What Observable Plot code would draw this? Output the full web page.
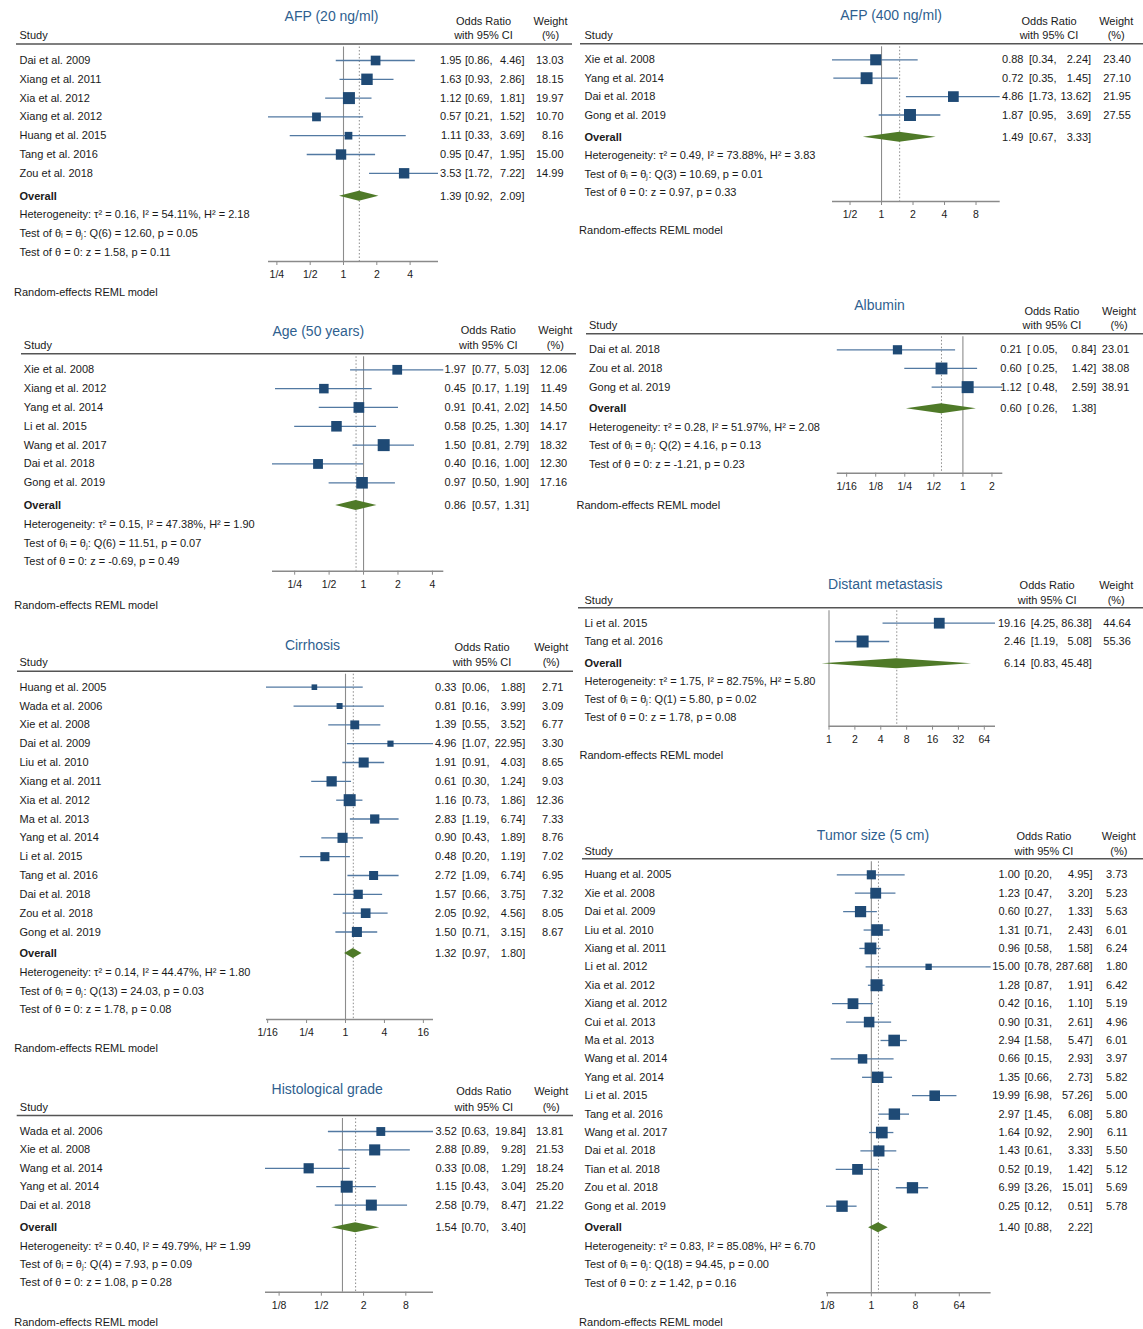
<!DOCTYPE html>
<html><head><meta charset="utf-8">
<script src="https://cdn.jsdelivr.net/npm/d3@7"></script>
<script src="https://cdn.jsdelivr.net/npm/@observablehq/plot@0.6"></script>
<style>
body{margin:0;background:#fff}
#page{position:relative;width:1143px;height:1329px;overflow:hidden;font-family:"Liberation Sans",Arial,sans-serif}
.panel{position:absolute}
</style>
</head><body><div id="page"></div>
<script>
// ---------------- DATA ----------------
// AFP (20 ng/ml)
const afp20Studies = ["Dai et al. 2009","Xiang et al. 2011","Xia et al. 2012","Xiang et al. 2012","Huang et al. 2015","Tang et al. 2016","Zou et al. 2018"];
const afp20OR = [1.95,1.63,1.12,0.57,1.11,0.95,3.53];
const afp20Lo = [0.86,0.93,0.69,0.21,0.33,0.47,1.72];
const afp20Hi = [4.46,2.86,1.81,1.52,3.69,1.95,7.22];
const afp20W  = [13.03,18.15,19.97,10.70,8.16,15.00,14.99];
const afp20Overall = [1.39,0.92,2.09];
const afp20Het = [0.16,54.11,2.18,6,12.60,0.05,1.58,0.11];
const afp20Ticks = [0.25,0.5,1,2,4];
const afp20TickLabels = ["1/4","1/2","1","2","4"];

// AFP (400 ng/ml)
const afp400Studies = ["Xie et al. 2008","Yang et al. 2014","Dai et al. 2018","Gong et al. 2019"];
const afp400OR = [0.88,0.72,4.86,1.87];
const afp400Lo = [0.34,0.35,1.73,0.95];
const afp400Hi = [2.24,1.45,13.62,3.69];
const afp400W  = [23.40,27.10,21.95,27.55];
const afp400Overall = [1.49,0.67,3.33];
const afp400Het = [0.49,73.88,3.83,3,10.69,0.01,0.97,0.33];
const afp400Ticks = [0.5,1,2,4,8];
const afp400TickLabels = ["1/2","1","2","4","8"];

// Age (50 years)
const ageStudies = ["Xie et al. 2008","Xiang et al. 2012","Yang et al. 2014","Li et al. 2015","Wang et al. 2017","Dai et al. 2018","Gong et al. 2019"];
const ageOR = [1.97,0.45,0.91,0.58,1.50,0.40,0.97];
const ageLo = [0.77,0.17,0.41,0.25,0.81,0.16,0.50];
const ageHi = [5.03,1.19,2.02,1.30,2.79,1.00,1.90];
const ageW  = [12.06,11.49,14.50,14.17,18.32,12.30,17.16];
const ageOverall = [0.86,0.57,1.31];
const ageHet = [0.15,47.38,1.90,6,11.51,0.07,-0.69,0.49];
const ageTicks = [0.25,0.5,1,2,4];
const ageTickLabels = ["1/4","1/2","1","2","4"];

// Albumin
const albStudies = ["Dai et al. 2018","Zou et al. 2018","Gong et al. 2019"];
const albOR = [0.21,0.60,1.12];
const albLo = [0.05,0.25,0.48];
const albHi = [0.84,1.42,2.59];
const albW  = [23.01,38.08,38.91];
const albOverall = [0.60,0.26,1.38];
const albHet = [0.28,51.97,2.08,2,4.16,0.13,-1.21,0.23];
const albTicks = [1/16,1/8,1/4,1/2,1,2];
const albTickLabels = ["1/16","1/8","1/4","1/2","1","2"];

// Cirrhosis
const cirStudies = ["Huang et al. 2005","Wada et al. 2006","Xie et al. 2008","Dai et al. 2009","Liu et al. 2010","Xiang et al. 2011","Xia et al. 2012","Ma et al. 2013","Yang et al. 2014","Li et al. 2015","Tang et al. 2016","Dai et al. 2018","Zou et al. 2018","Gong et al. 2019"];
const cirOR = [0.33,0.81,1.39,4.96,1.91,0.61,1.16,2.83,0.90,0.48,2.72,1.57,2.05,1.50];
const cirLo = [0.06,0.16,0.55,1.07,0.91,0.30,0.73,1.19,0.43,0.20,1.09,0.66,0.92,0.71];
const cirHi = [1.88,3.99,3.52,22.95,4.03,1.24,1.86,6.74,1.89,1.19,6.74,3.75,4.56,3.15];
const cirW  = [2.71,3.09,6.77,3.30,8.65,9.03,12.36,7.33,8.76,7.02,6.95,7.32,8.05,8.67];
const cirOverall = [1.32,0.97,1.80];
const cirHet = [0.14,44.47,1.80,13,24.03,0.03,1.78,0.08];
const cirTicks = [1/16,1/4,1,4,16];
const cirTickLabels = ["1/16","1/4","1","4","16"];

// Distant metastasis
const dmStudies = ["Li et al. 2015","Tang et al. 2016"];
const dmOR = [19.16,2.46];
const dmLo = [4.25,1.19];
const dmHi = [86.38,5.08];
const dmW  = [44.64,55.36];
const dmOverall = [6.14,0.83,45.48];
const dmHet = [1.75,82.75,5.80,1,5.80,0.02,1.78,0.08];
const dmTicks = [1,2,4,8,16,32,64];
const dmTickLabels = ["1","2","4","8","16","32","64"];

// Histological grade
const hgStudies = ["Wada et al. 2006","Xie et al. 2008","Wang et al. 2014","Yang et al. 2014","Dai et al. 2018"];
const hgOR = [3.52,2.88,0.33,1.15,2.58];
const hgLo = [0.63,0.89,0.08,0.43,0.79];
const hgHi = [19.84,9.28,1.29,3.04,8.47];
const hgW  = [13.81,21.53,18.24,25.20,21.22];
const hgOverall = [1.54,0.70,3.40];
const hgHet = [0.40,49.79,1.99,4,7.93,0.09,1.08,0.28];
const hgTicks = [1/8,1/2,2,8];
const hgTickLabels = ["1/8","1/2","2","8"];

// Tumor size (5 cm)
const tsStudies = ["Huang et al. 2005","Xie et al. 2008","Dai et al. 2009","Liu et al. 2010","Xiang et al. 2011","Li et al. 2012","Xia et al. 2012","Xiang et al. 2012","Cui et al. 2013","Ma et al. 2013","Wang et al. 2014","Yang et al. 2014","Li et al. 2015","Tang et al. 2016","Wang et al. 2017","Dai et al. 2018","Tian et al. 2018","Zou et al. 2018","Gong et al. 2019"];
const tsOR = [1.00,1.23,0.60,1.31,0.96,15.00,1.28,0.42,0.90,2.94,0.66,1.35,19.99,2.97,1.64,1.43,0.52,6.99,0.25];
const tsLo = [0.20,0.47,0.27,0.71,0.58,0.78,0.87,0.16,0.31,1.58,0.15,0.66,6.98,1.45,0.92,0.61,0.19,3.26,0.12];
const tsHi = [4.95,3.20,1.33,2.43,1.58,287.68,1.91,1.10,2.61,5.47,2.93,2.73,57.26,6.08,2.90,3.33,1.42,15.01,0.51];
const tsW  = [3.73,5.23,5.63,6.01,6.24,1.80,6.42,5.19,4.96,6.01,3.97,5.82,5.00,5.80,6.11,5.50,5.12,5.69,5.78];
const tsOverall = [1.40,0.88,2.22];
const tsHet = [0.83,85.08,6.70,18,94.45,0.00,1.42,0.16];
const tsTicks = [1/8,1,8,64];
const tsTickLabels = ["1/8","1","8","64"];

// ---------------- STYLE ----------------
const FONT = "Liberation Sans, Arial, Helvetica, sans-serif";
const TXT = "#1a1a1a", TITLE = "#2f5f8f", SQ = "#1f4a75", CI = "#5279a2", DIA = "#4f7a28", REF = "#8c8c8c";

function forest(cfg, d) {
  const [bx, by, bw, bh] = cfg.box;
  const rowOf = py => (py - cfg.firstRow) / cfg.step;
  const rows = d.studies.map((s, i) => ({study: s, or: d.or[i], lo: d.lo[i], hi: d.hi[i], w: d.w[i], y: i}));
  const frameTop = cfg.hline + 3;
  const xDom = [Math.min(1, d3.min(d.lo)), Math.max(1, d3.max(d.hi))];
  const mL = cfg.ax0 - bx, mR = bx + bw - cfg.ax1, mT = frameTop - by, mB = by + bh - cfg.axisY;
  const yDom = [rowOf(frameTop), rowOf(cfg.axisY)];
  const oy = rowOf(cfg.overallY);
  const hh = 5 / cfg.step;
  const [oOR, oLo, oHi] = d.overall;
  const diamond = [{x: oLo, y1: oy, y2: oy}, {x: oOR, y1: oy - hh, y2: oy + hh}, {x: oHi, y1: oy, y2: oy}];
  const f2 = v => v.toFixed(2);
  const pad = d.pad ? " " : "";
  const orRows = rows.map(r => ({est: f2(r.or), lo: "[" + pad + f2(r.lo) + ",", hi: f2(r.hi) + "]", w: f2(r.w), y: r.y}));
  orRows.push({est: f2(oOR), lo: "[" + pad + f2(oLo) + ",", hi: f2(oHi) + "]", w: "", y: oy});
  const h = d.het;
  const hetLines = [
    `Heterogeneity: \u03c4\u00b2 = ${f2(h[0])}, I\u00b2 = ${f2(h[1])}%, H\u00b2 = ${f2(h[2])}`,
    `Test of \u03b8\u1d62 = \u03b8\u2c7c: Q(${h[3]}) = ${f2(h[4])}, p = ${f2(h[5])}`,
    `Test of \u03b8 = 0: z = ${f2(h[6])}, p = ${f2(h[7])}`
  ].map((t, i) => ({t, y: rowOf(cfg.het[i])}));
  const at = px => ({frameAnchor: "left", dx: px - cfg.ax0});
  const T = (data, opts) => Plot.text(data, {fontFamily: FONT, fontSize: 11, fill: TXT, y: "y", ...opts});
  const tickMap = new Map(d.ticks.map((t, i) => [t, d.tickLabels[i]]));

  const svg = Plot.plot({
    width: bw, height: bh,
    marginLeft: mL, marginRight: mR, marginTop: mT, marginBottom: mB,
    style: {fontFamily: FONT, fontSize: "11px", background: "transparent", overflow: "visible"},
    x: {type: "log", base: 2, domain: xDom},
    y: {type: "linear", domain: yDom, range: [mT, bh - mB], axis: null},
    r: {type: "sqrt", domain: [0, d3.max(d.w)], range: [0, 12 / Math.sqrt(Math.PI)]},
    marks: [
      // header
      T([{t: cfg.title, y: rowOf(cfg.titleY)}], {text: "t", ...at(cfg.titleX), textAnchor: "middle", fontSize: 14, fill: TITLE}),
      T([{t: "Odds Ratio", y: rowOf(cfg.hdrY1)}, {t: "with 95% CI", y: rowOf(cfg.hdrY2)}], {text: "t", ...at(cfg.orHdrX), textAnchor: "middle"}),
      T([{t: "Weight", y: rowOf(cfg.hdrY1)}, {t: "(%)", y: rowOf(cfg.hdrY2)}], {text: "t", ...at(cfg.wHdrX), textAnchor: "middle"}),
      T([{t: "Study", y: rowOf(cfg.hdrY2)}], {text: "t", ...at(cfg.studyX), textAnchor: "start"}),
      Plot.ruleY([rowOf(cfg.hline)], {stroke: "#555", strokeWidth: 1.6, insetLeft: cfg.hx1 - cfg.ax0, insetRight: cfg.ax1 - cfg.hx2}),
      // reference lines
      Plot.ruleX([1], {stroke: REF, strokeWidth: 1.1}),
      Plot.ruleX([oOR], {stroke: REF, strokeWidth: 1, strokeDasharray: "1.5,2"}),
      // CIs and squares
      Plot.ruleY(rows, {y: "y", x1: "lo", x2: "hi", stroke: CI, strokeWidth: 1.3}),
      Plot.dot(rows, {x: "or", y: "y", r: "w", symbol: "square", fill: SQ, stroke: "none"}),
      // overall diamond
      Plot.areaY(diamond, {x: "x", y1: "y1", y2: "y2", fill: DIA, curve: "linear"}),
      // axis
      Plot.ruleY([yDom[1]], {stroke: "#8a8a8a", strokeWidth: 1.5}),
      Plot.axisX({ticks: d.ticks, tickFormat: v => tickMap.get(v), tickSize: 4, tickPadding: 5, fontSize: 10.5, stroke: "#8a8a8a", fill: TXT, label: null}),
      // study labels
      T(rows, {text: "study", ...at(cfg.studyX), textAnchor: "start"}),
      T([{t: "Overall", y: oy}], {text: "t", ...at(cfg.studyX), textAnchor: "start", fontWeight: "bold"}),
      // OR columns
      T(orRows, {text: "est", ...at(cfg.estR), textAnchor: "end"}),
      T(orRows, {text: "lo", ...at(cfg.lbL + 2.5), textAnchor: "start"}),
      T(orRows, {text: "hi", ...at(cfg.upR), textAnchor: "end"}),
      T(orRows, {text: "w", ...at(cfg.wR), textAnchor: "end"}),
      // heterogeneity
      T(hetLines, {text: "t", ...at(cfg.studyX), textAnchor: "start"}),
      // footnote
      T([{t: "Random-effects REML model", y: rowOf(cfg.footY)}], {text: "t", ...at(cfg.footX), textAnchor: "start"})
    ]
  });
  const div = document.createElement("div");
  div.className = "panel";
  div.style.left = bx + "px"; div.style.top = by + "px";
  div.style.width = bw + "px"; div.style.height = bh + "px";
  div.appendChild(svg);
  document.getElementById("page").appendChild(div);
}

// ---------------- LAYOUT + RENDER ----------------
forest({box: [0, 0, 575, 300], title: "AFP (20 ng/ml)", titleX: 331, titleY: 16, orHdrX: 483, hdrY1: 20.7, hdrY2: 35, wHdrX: 550,
  studyX: 19, hline: 43.5, hx1: 16, hx2: 572, firstRow: 60, step: 18.8, overallY: 195.7, het: [214.3, 233.3, 252],
  axisY: 261, ax0: 268, ax1: 438, estR: 461, lbL: 462, upR: 524, wR: 563, footX: 13.5, footY: 291.7},
  {studies: afp20Studies, or: afp20OR, lo: afp20Lo, hi: afp20Hi, w: afp20W, overall: afp20Overall, het: afp20Het, ticks: afp20Ticks, tickLabels: afp20TickLabels});

forest({box: [575, 0, 568, 245], title: "AFP (400 ng/ml)", titleX: 890.6, titleY: 15, orHdrX: 1048.5, hdrY1: 20.7, hdrY2: 35, wHdrX: 1115.7,
  studyX: 584, hline: 43.3, hx1: 580, hx2: 1143, firstRow: 59.3, step: 18.4, overallY: 136.7, het: [155.3, 173.7, 192.3],
  axisY: 201, ax0: 832, ax1: 999.7, estR: 1023, lbL: 1026, upR: 1090.6, wR: 1130.3, footX: 578.6, footY: 230},
  {studies: afp400Studies, or: afp400OR, lo: afp400Lo, hi: afp400Hi, w: afp400W, overall: afp400Overall, het: afp400Het, ticks: afp400Ticks, tickLabels: afp400TickLabels});

forest({box: [0, 315, 575, 300], title: "Age (50 years)", titleX: 317.8, titleY: 331, orHdrX: 487.8, hdrY1: 330, hdrY2: 345, wHdrX: 554.8,
  studyX: 23.3, hline: 353.3, hx1: 21, hx2: 576, firstRow: 369.3, step: 18.83, overallY: 505, het: [524, 542.7, 561.3],
  axisY: 570.7, ax0: 272, ax1: 443.3, estR: 465.5, lbL: 469, upR: 528.5, wR: 566.7, footX: 13.7, footY: 605},
  {studies: ageStudies, or: ageOR, lo: ageLo, hi: ageHi, w: ageW, overall: ageOverall, het: ageHet, ticks: ageTicks, tickLabels: ageTickLabels});

forest({box: [575, 290, 568, 225], title: "Albumin", titleX: 879, titleY: 305, orHdrX: 1051.4, hdrY1: 310.7, hdrY2: 325, wHdrX: 1118.6,
  studyX: 588.5, hline: 333.3, hx1: 586, hx2: 1143, firstRow: 349.3, step: 18.67, overallY: 408.3, het: [426.7, 445.3, 463.7],
  axisY: 472.7, ax0: 836.8, ax1: 1002.3, estR: 1021.2, lbL: 1024, upR: 1095.7, wR: 1128.8, footX: 576, footY: 505},
  {studies: albStudies, or: albOR, lo: albLo, hi: albHi, w: albW, overall: albOverall, het: albHet, ticks: albTicks, tickLabels: albTickLabels, pad: true});

forest({box: [0, 630, 575, 430], title: "Cirrhosis", titleX: 312, titleY: 645, orHdrX: 481.5, hdrY1: 647.3, hdrY2: 662.3, wHdrX: 550.7,
  studyX: 19, hline: 670.7, hx1: 17, hx2: 573, firstRow: 686.7, step: 18.83, overallY: 953, het: [971.7, 990.7, 1009.3],
  axisY: 1019, ax0: 266, ax1: 433, estR: 456, lbL: 459, upR: 524.8, wR: 563, footX: 13.7, footY: 1048},
  {studies: cirStudies, or: cirOR, lo: cirLo, hi: cirHi, w: cirW, overall: cirOverall, het: cirHet, ticks: cirTicks, tickLabels: cirTickLabels});

forest({box: [575, 570, 568, 195], title: "Distant metastasis", titleX: 884.8, titleY: 584, orHdrX: 1046.6, hdrY1: 585, hdrY2: 600, wHdrX: 1115.7,
  studyX: 584, hline: 607.3, hx1: 578, hx2: 1143, firstRow: 622.7, step: 18.3, overallY: 663.3, het: [681, 699.3, 717],
  axisY: 725.7, ax0: 828.5, ax1: 995, estR: 1025, lbL: 1027.7, upR: 1091.4, wR: 1130.3, footX: 579, footY: 755},
  {studies: dmStudies, or: dmOR, lo: dmLo, hi: dmHi, w: dmW, overall: dmOverall, het: dmHet, ticks: dmTicks, tickLabels: dmTickLabels});

forest({box: [0, 1075, 575, 254], title: "Histological grade", titleX: 326.7, titleY: 1089, orHdrX: 483.3, hdrY1: 1091, hdrY2: 1106.7, wHdrX: 550.7,
  studyX: 19.3, hline: 1115, hx1: 16.7, hx2: 573, firstRow: 1131, step: 18.4, overallY: 1227.3, het: [1245.7, 1264, 1282.3],
  axisY: 1291.7, ax0: 265, ax1: 433, estR: 456.3, lbL: 458.5, upR: 525.2, wR: 563, footX: 13.7, footY: 1321.7},
  {studies: hgStudies, or: hgOR, lo: hgLo, hi: hgHi, w: hgW, overall: hgOverall, het: hgHet, ticks: hgTicks, tickLabels: hgTickLabels});

forest({box: [575, 820, 568, 509], title: "Tumor size (5 cm)", titleX: 872.5, titleY: 835, orHdrX: 1043.4, hdrY1: 836, hdrY2: 850.7, wHdrX: 1118.3,
  studyX: 584, hline: 858.3, hx1: 582, hx2: 1143, firstRow: 874.3, step: 18.41, overallY: 1227.3, het: [1246, 1264.3, 1282.7],
  axisY: 1292.3, ax0: 826, ax1: 990.6, estR: 1019.4, lbL: 1021.5, upR: 1092, wR: 1127, footX: 578.6, footY: 1321.7},
  {studies: tsStudies, or: tsOR, lo: tsLo, hi: tsHi, w: tsW, overall: tsOverall, het: tsHet, ticks: tsTicks, tickLabels: tsTickLabels});
</script>
</body></html>
